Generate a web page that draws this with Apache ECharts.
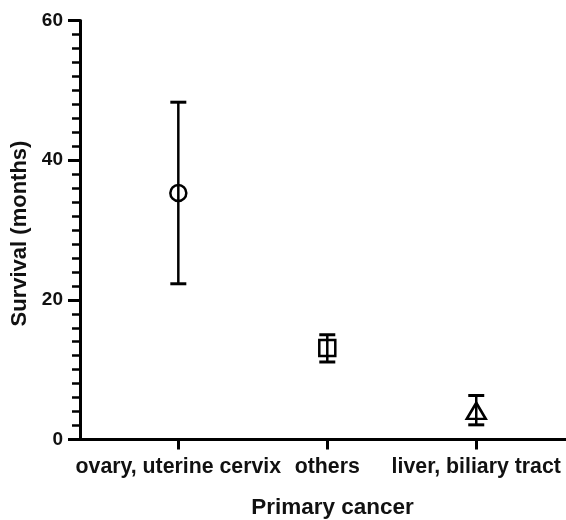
<!DOCTYPE html>
<html>
<head>
<meta charset="utf-8">
<script src="https://cdn.jsdelivr.net/npm/echarts@6/dist/echarts.min.js"></script>
<style>
html,body{margin:0;padding:0;background:#fff;}
#chart{width:566px;height:520px;}
</style>
</head>
<body>
<div id="chart"></div>
<script>
const categories = ['ovary, uterine cervix', 'others', 'liver, biliary tract'];
const means = [35.3, 13.1, 4.1];
const upperErr = [48.3, 15.0, 6.3];
const lowerErr = [22.3, 11.1, 2.1];
const markerSymbols = ['circle', 'rect', 'triangle'];
const yTickValues = [0, 20, 40, 60];

const positions = categories.map((c, i) => i + 1);
const errData = categories.map((c, i) => [positions[i], upperErr[i], lowerErr[i]]);
const pointData = categories.map((c, i) => ({ value: [positions[i], means[i]], symbol: markerSymbols[i] }));

const chart = echarts.init(document.getElementById('chart'), null, { renderer: 'canvas' });
const fontFamily = 'Liberation Sans, Arial, sans-serif';
const ink = '#111';

chart.setOption({
  backgroundColor: '#fff',
  animation: false,
  grid: { left: 80, right: -19, top: 20.5, bottom: 80.5, containLabel: false, outerBoundsMode: 'none' },
  xAxis: {
    type: 'value',
    min: 0.34,
    max: 3.73,
    name: 'Primary cancer',
    nameLocation: 'middle',
    nameGap: 57,
    nameTextStyle: { fontSize: 22.5, fontWeight: 'bold', color: ink, fontFamily },
    axisLine: { show: true, onZero: false, lineStyle: { color: '#000', width: 3 } },
    axisTick: { show: true, customValues: positions, length: 10, lineStyle: { color: '#000', width: 3 } },
    axisLabel: {
      customValues: positions,
      formatter: v => categories[Math.round(v) - 1],
      margin: 17,
      fontSize: 21.3,
      fontWeight: 'bold',
      color: ink,
      fontFamily
    },
    splitLine: { show: false }
  },
  yAxis: {
    type: 'value',
    min: yTickValues[0],
    max: yTickValues[yTickValues.length - 1],
    interval: 20,
    name: 'Survival (months)',
    nameLocation: 'middle',
    nameGap: 49,
    nameRotate: 90,
    nameTextStyle: { fontSize: 22, fontWeight: 'bold', color: ink, fontFamily, padding: [0, 7, 0, 0] },
    axisLine: { show: true, lineStyle: { color: '#000', width: 3 } },
    axisTick: { show: true, length: 12, lineStyle: { color: '#000', width: 3 } },
    minorTick: { show: true, splitNumber: 10, length: 8, lineStyle: { color: '#000', width: 2.5 } },
    axisLabel: { margin: 17, fontSize: 19, fontWeight: 'bold', color: ink, fontFamily },
    splitLine: { show: false },
    minorSplitLine: { show: false }
  },
  series: [
    {
      type: 'custom',
      data: errData,
      clip: false,
      encode: { x: 0, y: [1, 2] },
      renderItem: function (params, api) {
        const x = api.value(0);
        const pHi = api.coord([x, api.value(1)]);
        const pLo = api.coord([x, api.value(2)]);
        const hw = 8;
        const style = { stroke: '#000', lineWidth: 2.5 };
        return {
          type: 'group',
          children: [
            { type: 'line', shape: { x1: pHi[0], y1: pHi[1], x2: pLo[0], y2: pLo[1] }, style },
            { type: 'line', shape: { x1: pHi[0] - hw, y1: pHi[1], x2: pHi[0] + hw, y2: pHi[1] }, style: { stroke: '#000', lineWidth: 3 } },
            { type: 'line', shape: { x1: pLo[0] - hw, y1: pLo[1], x2: pLo[0] + hw, y2: pLo[1] }, style: { stroke: '#000', lineWidth: 3 } }
          ]
        };
      }
    },
    {
      type: 'scatter',
      data: pointData,
      symbolSize: function (v, p) { return p.dataIndex === 2 ? [19, 16] : 16; },
      itemStyle: { color: 'rgba(0,0,0,0)', borderColor: '#000', borderWidth: 2.5, opacity: 1 },
      z: 5
    }
  ]
});
</script>
</body>
</html>
